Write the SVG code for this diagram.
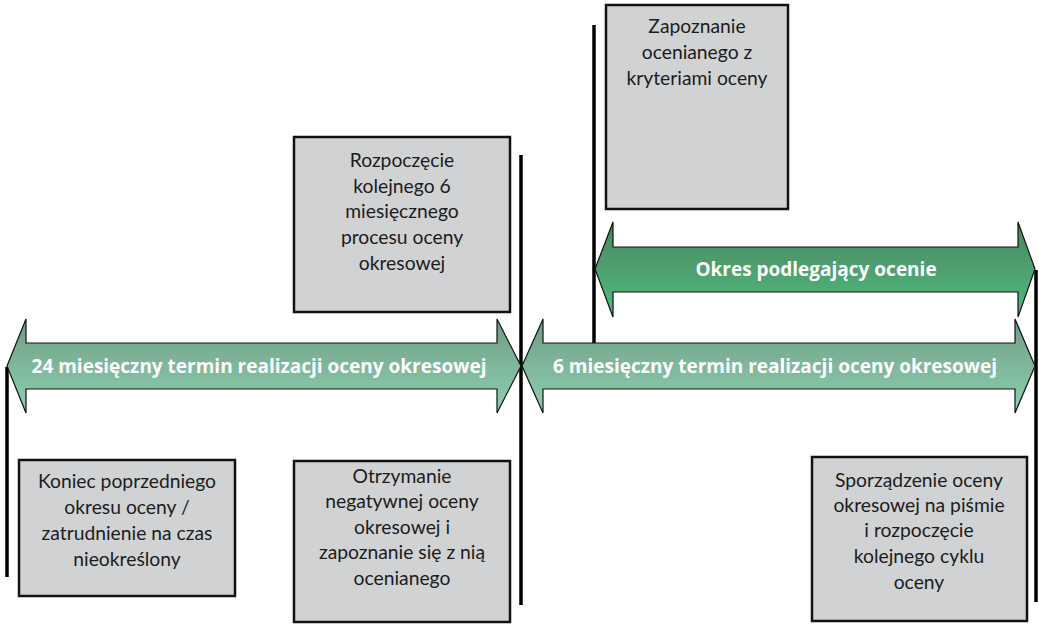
<svg xmlns="http://www.w3.org/2000/svg" width="1039" height="624" viewBox="0 0 1039 624">
  <defs>
    <linearGradient id="gradTerm" x1="0" y1="0" x2="0" y2="1">
      <stop offset="0" stop-color="#6f9d84"/>
      <stop offset="0.5" stop-color="#7fb79b"/>
      <stop offset="1" stop-color="#8bd0ae"/>
    </linearGradient>
    <linearGradient id="gradPeriod" x1="0" y1="0" x2="0" y2="1">
      <stop offset="0" stop-color="#4a8460"/>
      <stop offset="0.5" stop-color="#4ea16f"/>
      <stop offset="1" stop-color="#4fbb7e"/>
    </linearGradient>
    <style>
      .box { fill: #d1d2d4; stroke: #111; stroke-width: 2.5; }
      .lbl { font-family: Lato, "Open Sans", "Liberation Sans", sans-serif; font-size: 19.3px; fill: #1c1c1c; text-anchor: middle; }
      .arrow-lbl { font-family: "Open Sans", Lato, "Liberation Sans", sans-serif; font-weight: bold; font-size: 19px; fill: #ffffff; text-anchor: middle; }
      .marker-line { stroke: #000; stroke-width: 3.5; fill: none; }
      .dbl { stroke: #111; stroke-width: 1.2; stroke-linejoin: miter; }
    </style>
  </defs>

  <!-- timeline markers -->
  <g id="connectors">
    <line class="marker-line" x1="7" y1="367" x2="7" y2="577"/>
    <line class="marker-line" x1="521" y1="155" x2="521" y2="605"/>
    <line class="marker-line" x1="594" y1="25" x2="594" y2="343"/>
    <line class="marker-line" x1="1036" y1="270" x2="1036" y2="602"/>
  </g>

  <!-- double-headed span arrows -->
  <g id="span-24">
    <path class="dbl" fill="url(#gradTerm)" d="M7,366 L26,319 L26,343 L497,343 L497,319 L521,366 L497,413 L497,389 L26,389 L26,413 Z"/>
    <text class="arrow-lbl" x="259" y="373">24 miesięczny termin realizacji oceny okresowej</text>
  </g>
  <g id="span-6">
    <path class="dbl" fill="url(#gradTerm)" d="M522,366 L543,319 L543,343 L1015,343 L1015,319 L1035,366 L1015,413 L1015,389 L543,389 L543,413 Z"/>
    <text class="arrow-lbl" x="775" y="373">6 miesięczny termin realizacji oceny okresowej</text>
  </g>
  <g id="span-period">
    <path class="dbl" fill="url(#gradPeriod)" d="M595,269 L613,222 L613,247 L1018,247 L1018,222 L1035,269 L1018,317 L1018,292 L613,292 L613,317 Z"/>
    <text class="arrow-lbl" x="816" y="276">Okres podlegający ocenie</text>
  </g>

  <!-- event boxes -->
  <g id="node-koniec">
    <rect class="box" x="19" y="460" width="216" height="136"/>
    <text class="lbl" x="127" y="488">Koniec poprzedniego</text>
    <text class="lbl" x="127" y="514">okresu oceny /</text>
    <text class="lbl" x="127" y="540">zatrudnienie na czas</text>
    <text class="lbl" x="127" y="566">nieokreślony</text>
  </g>

  <g id="node-rozpoczecie">
    <rect class="box" x="294" y="137" width="216" height="175"/>
    <text class="lbl" x="402" y="167">Rozpoczęcie</text>
    <text class="lbl" x="402" y="193">kolejnego 6</text>
    <text class="lbl" x="402" y="218">miesięcznego</text>
    <text class="lbl" x="402" y="244">procesu oceny</text>
    <text class="lbl" x="402" y="270">okresowej</text>
  </g>

  <g id="node-zapoznanie">
    <rect class="box" x="606" y="5" width="182" height="204"/>
    <text class="lbl" x="697" y="33">Zapoznanie</text>
    <text class="lbl" x="697" y="59">ocenianego z</text>
    <text class="lbl" x="697" y="85">kryteriami oceny</text>
  </g>

  <g id="node-otrzymanie">
    <rect class="box" x="294" y="461" width="216" height="161"/>
    <text class="lbl" x="402" y="483">Otrzymanie</text>
    <text class="lbl" x="402" y="508">negatywnej oceny</text>
    <text class="lbl" x="402" y="534">okresowej i</text>
    <text class="lbl" x="402" y="559">zapoznanie się z nią</text>
    <text class="lbl" x="402" y="585">ocenianego</text>
  </g>

  <g id="node-sporzadzenie">
    <rect class="box" x="812" y="457" width="215" height="164"/>
    <text class="lbl" x="919" y="487">Sporządzenie oceny</text>
    <text class="lbl" x="919" y="512">okresowej na piśmie</text>
    <text class="lbl" x="919" y="537">i rozpoczęcie</text>
    <text class="lbl" x="919" y="563">kolejnego cyklu</text>
    <text class="lbl" x="919" y="589">oceny</text>
  </g>
</svg>
